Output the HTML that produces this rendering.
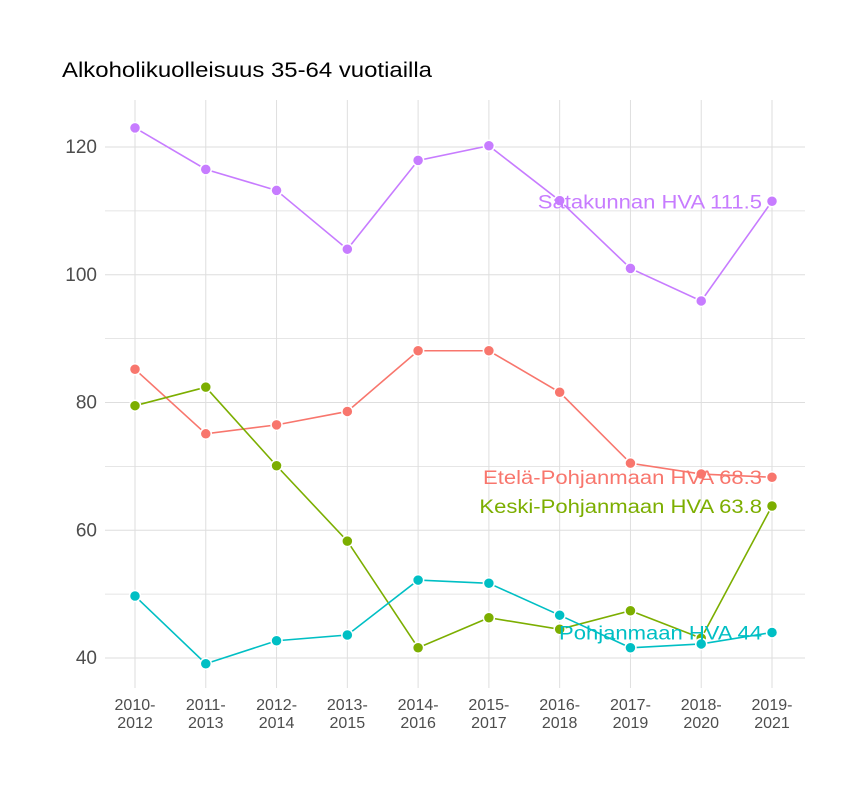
<!DOCTYPE html>
<html><head><meta charset="utf-8"><style>
body{margin:0;background:#fff;}
svg{display:block;font-family:"Liberation Sans",sans-serif;}
</style></head><body>
<svg id="chart" width="864" height="792" xmlns="http://www.w3.org/2000/svg">
<rect width="864" height="792" fill="#fff"/>
<text x="62" y="77" font-size="21" fill="#000" textLength="370" lengthAdjust="spacingAndGlyphs">Alkoholikuolleisuus 35-64 vuotiailla</text>
<g id="grid"></g>
<g id="axes"></g>
<g id="series"></g>
<g id="labels"></g>
</svg>
<script>
const categories=["2010-2012","2011-2013","2012-2014","2013-2015","2014-2016","2015-2017","2016-2018","2017-2019","2018-2020","2019-2021"];
const satakunta=[123,116.5,113.2,104,117.9,120.2,111.6,101,95.9,111.5];
const etela=[85.2,75.1,76.5,78.6,88.1,88.1,81.6,70.5,68.8,68.3];
const keski=[79.5,82.4,70.1,58.3,41.6,46.3,44.5,47.4,43.1,63.8];
const pohjanmaa=[49.7,39.1,42.7,43.6,52.2,51.7,46.7,41.6,42.2,44];
const yTicks=[40,60,80,100,120];
const seriesNames=["Satakunnan HVA","Etelä-Pohjanmaan HVA","Keski-Pohjanmaan HVA","Pohjanmaan HVA"];
const seriesColors=["#C77CFF","#F8766D","#7CAE00","#00BFC4"];
{
const NS="http://www.w3.org/2000/svg";
const xs=i=>135+i*(772-135)/(categories.length-1);
const ys=v=>147+(120-v)*6.3875;
function mk(tag,attrs,parent){const e=document.createElementNS(NS,tag);for(const k in attrs)e.setAttribute(k,attrs[k]);parent.appendChild(e);return e;}
const grid=document.getElementById('grid'),axes=document.getElementById('axes'),ser=document.getElementById('series'),lab=document.getElementById('labels');
const plotTop=100,plotBot=688,plotLeft=105,plotRight=805;
for(let v=30;v<=130;v+=10){const yy=ys(v);if(yy<plotTop||yy>plotBot)continue;
 const l=mk('line',{x1:plotLeft,x2:plotRight,y1:yy,y2:yy,stroke:'#dedede','stroke-width':v%20===0?1:0.8},grid);
 
 }
categories.forEach((c,i)=>{const l=mk('line',{x1:xs(i),x2:xs(i),y1:plotTop,y2:plotBot,stroke:'#dedede','stroke-width':1},grid);
 
 
 const parts=c.split('-');
 const t=mk('text',{x:xs(i),y:710,'font-size':16,fill:'#4d4d4d','text-anchor':'middle'},axes);
 
 
 mk('tspan',{x:xs(i),dy:0},t).textContent=parts[0]+'-';
 mk('tspan',{x:xs(i),dy:18},t).textContent=parts[1];});
yTicks.forEach(v=>{const t=mk('text',{x:97,y:ys(v)+6,'font-size':19,fill:'#4d4d4d','text-anchor':'end'},axes);
 
 
 t.textContent=v;});
const data=[satakunta,etela,keski,pohjanmaa];
data.forEach((d,s)=>{const g=mk('g',{},ser);
 
 
 const p=mk('polyline',{points:d.map((v,i)=>xs(i)+','+ys(v)).join(' '),fill:'none',stroke:seriesColors[s],'stroke-width':1.6},g);
 
 
 d.forEach((v,i)=>{const c=mk('circle',{cx:xs(i),cy:ys(v),r:5.5,fill:seriesColors[s],stroke:'#fff','stroke-width':1.5},g);
  
  });});
data.forEach((d,s)=>{const last=d[d.length-1];
 const t=mk('text',{x:762,y:ys(last)+7,'font-size':19,fill:seriesColors[s],'text-anchor':'end'},lab);
 
 
 t.textContent=seriesNames[s]+' '+last;
 const w=t.getComputedTextLength();
 t.setAttribute('textLength',w*1.16);
 t.setAttribute('lengthAdjust','spacingAndGlyphs');});
}
</script>
</body></html>
